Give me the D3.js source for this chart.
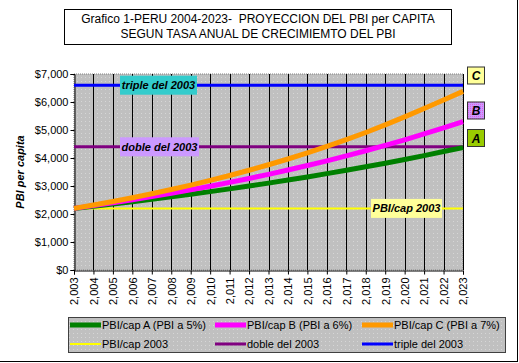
<!DOCTYPE html>
<html><head><meta charset="utf-8">
<script src="https://cdn.jsdelivr.net/npm/d3@7"></script>
<style>
body{margin:0;background:#fff;}
text{font-family:Arial,"Liberation Sans",sans-serif;}
</style></head>
<body><svg id="c" width="519" height="363"></svg>
<script>
const years = [2003,2004,2005,2006,2007,2008,2009,2010,2011,2012,2013,2014,2015,2016,2017,2018,2019,2020,2021,2022,2023];
const serieA = [2200,2277,2357,2439,2525,2613,2704,2799,2897,2998,3103,3212,3324,3441,3561,3686,3815,3948,4086,4230,4370];
const serieB = [2200,2299,2402,2511,2624,2742,2865,2994,3129,3269,3417,3570,3731,3899,4074,4258,4449,4649,4859,5077,5300];
const serieC = [2200,2321,2449,2583,2725,2875,3033,3200,3376,3562,3758,3965,4183,4413,4655,4911,5182,5467,5767,6070,6380];
const base2003 = 2200;
const doble2003 = 4400;
const triple2003 = 6600;
const yTicks = [0,1000,2000,3000,4000,5000,6000,7000];
const titleLines = ["Grafico 1-PERU 2004-2023-  PROYECCION DEL PBI per CAPITA","SEGUN TASA ANUAL DE CRECIMIEMTO DEL PBI"];
const legendItems = [
  {name:"PBI/cap A (PBI a 5%)", color:"#008000", w:5},
  {name:"PBI/cap B (PBI a 6%)", color:"#FF00FF", w:5},
  {name:"PBI/cap C (PBI a 7%)", color:"#FF9900", w:5},
  {name:"PBI/cap 2003", color:"#FFFF00", w:2},
  {name:"doble del 2003", color:"#800080", w:3},
  {name:"triple del 2003", color:"#0000FF", w:3}
];

const svg = d3.select("#c");
const defs = svg.append("defs");
const pat = defs.append("pattern").attr("id","dots").attr("width",4).attr("height",4).attr("patternUnits","userSpaceOnUse");
pat.append("rect").attr("width",4).attr("height",4).attr("fill","#C0C0C0");
pat.append("rect").attr("x",1).attr("y",1).attr("width",1).attr("height",1).attr("fill","#D6D6D6");
const pat2 = defs.append("pattern").attr("id","pink").attr("width",2).attr("height",2).attr("patternUnits","userSpaceOnUse");
pat2.append("rect").attr("width",2).attr("height",2).attr("fill","#CC99FF");
pat2.append("rect").attr("width",1).attr("height",1).attr("fill","#E060E0");

// outer border
svg.append("rect").attr("x",-1).attr("y",-1).attr("width",518.5).attr("height",362.5).attr("fill","#fff").attr("stroke","#000").attr("stroke-width",1);

// title
svg.append("rect").attr("x",64.5).attr("y",9.5).attr("width",387).attr("height",35).attr("fill","#fff").attr("stroke","#000");
svg.selectAll("text.title").data(titleLines).enter().append("text")
  .attr("x",258).attr("y",(d,i)=>23+i*15).attr("text-anchor","middle")
  .style("white-space","pre")
  .attr("font-size",12).text(d=>d);

const L=74, R=463, T=74, B=270;
const x = d3.scalePoint().domain(years).range([L,R]);
const y = d3.scaleLinear().domain([0,7000]).range([B,T]);

// plot area
svg.append("rect").attr("x",L).attr("y",T).attr("width",R-L).attr("height",B-T).attr("fill","url(#dots)")
  .attr("stroke","#808080").attr("stroke-dasharray","1,1");

// vertical gridlines
svg.append("g").selectAll("line").data(years.slice(1)).enter().append("line")
  .attr("x1",d=>Math.round(x(d))+0.5).attr("x2",d=>Math.round(x(d))+0.5)
  .attr("y1",T).attr("y2",B).attr("stroke","#000").attr("stroke-width",1);

// axes
const yAxis = d3.axisLeft(y).tickValues(yTicks).tickSize(4).tickFormat(d=>"$"+d3.format(",")(d));
const gy = svg.append("g").attr("transform",`translate(${L+0.5},0)`).call(yAxis);
gy.selectAll("text").attr("font-size",11).attr("fill","#000").attr("x",-6);
gy.select(".domain").attr("stroke","#000");

const xAxis = d3.axisBottom(x).tickSize(4).tickFormat(d=>d3.format(",")(d));
const gx = svg.append("g").attr("transform",`translate(0,${B+0.5})`).call(xAxis);
gx.select(".domain").attr("stroke","#000");
gx.selectAll("text").attr("font-size",11).attr("fill","#000")
  .attr("transform","rotate(-90)").attr("text-anchor","end").attr("dy","0.35em").attr("x",-7).attr("y",0);

svg.append("text").attr("transform",`translate(24,${(T+B)/2}) rotate(-90)`).attr("text-anchor","middle")
  .attr("font-size",11).attr("font-style","italic").attr("font-weight","bold").text("PBI per capita");

// horizontal reference lines
const hLines = [[base2003,"#FFFF00",2],[doble2003,"#800080",3],[triple2003,"#0000FF",3]];
hLines.forEach(h=>{
  svg.append("line").attr("x1",L).attr("x2",R).attr("y1",y(h[0])).attr("y2",y(h[0])).attr("stroke",h[1]).attr("stroke-width",h[2]);
});

// series
const line = d3.line().x((d,i)=>x(years[i])).y(d=>y(d));
[[serieA,"#008000"],[serieB,"#FF00FF"],[serieC,"#FF9900"]].forEach(s=>{
  svg.append("path").datum(s[0]).attr("d",line).attr("fill","none").attr("stroke",s[1]).attr("stroke-width",5);
});

// labels on lines
function lab(xl,w,val,txt,fill){
  const yc=y(val);
  svg.append("rect").attr("x",xl).attr("y",yc-9.5).attr("width",w).attr("height",19).attr("fill",fill);
  svg.append("text").attr("x",xl+w/2).attr("y",yc+4).attr("text-anchor","middle").attr("font-size",11)
    .attr("font-style","italic").attr("font-weight","bold").text(txt);
}
lab(120,77,triple2003,"triple del 2003","#33CCCC");
lab(120,79,doble2003,"doble del 2003","#CC99FF");
lab(371,71,base2003,"PBI/cap 2003","#FFFF99");

// A B C boxes
const boxes=[["C","#FFFF99",75.5],["B","url(#pink)",110.5],["A","#99CC00",138]];
boxes.forEach(b=>{
  svg.append("rect").attr("x",467.5).attr("y",b[2]-8.5).attr("width",17).attr("height",17).attr("fill",b[1]).attr("stroke","#333");
  svg.append("text").attr("x",476).attr("y",b[2]+4.5).attr("text-anchor","middle").attr("font-size",12)
    .attr("font-style","italic").attr("font-weight","bold").text(b[0]);
});

// legend
svg.append("rect").attr("x",68.5).attr("y",317.5).attr("width",437).attr("height",35).attr("fill","url(#dots)").attr("stroke","#404040");
const colX=[70,215,362];
legendItems.forEach((d,i)=>{
  const cx=colX[i%3], cy= i<3?325:344;
  svg.append("line").attr("x1",cx).attr("x2",cx+31).attr("y1",cy).attr("y2",cy).attr("stroke",d.color).attr("stroke-width",d.w);
  svg.append("text").attr("x",cx+32).attr("y",cy+4).attr("font-size",11).text(d.name);
});
</script></body></html>
